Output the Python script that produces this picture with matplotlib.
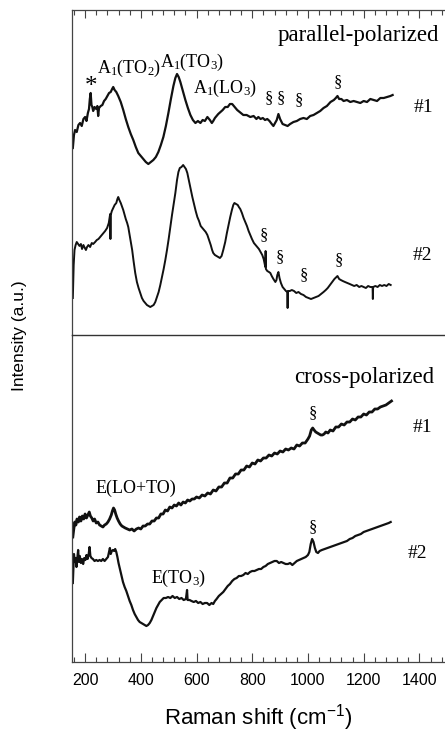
import matplotlib
matplotlib.use("Agg")
import matplotlib.pyplot as plt
from matplotlib.ticker import MultipleLocator

# Raman-Spektren, Werte (willkuerliche Einheiten)
par1_x = [156,160,164,170,176,182,188,194,200,205,210,214,217,220,223,226,229,234,240,244,247,250,256,262,268,274,280,286,292,297,
          301,306,312,319,328,337,346,355,364,373,382,391,400,409,418,427,436,445,454,463,472,481,490,499,508,517,524,530,536,542,
          551,560,569,578,587,596,605,614,622,630,639,648,655,660,666,672,678,686,694,703,712,720,728,737,746,755,768,780,793,805,
          815,822,830,838,846,854,862,870,876,882,888,894,900,909,918,927,936,948,960,972,984,996,1008,1020,1032,1044,1056,1068,1081,1093,
          1100,1106,1112,1120,1128,1140,1152,1164,1176,1188,1200,1212,1224,1236,1248,1260,1272,1284,1296,1304]
par1_y = [187,200,205,203,210,212,209,216,218,214,222,226,236,242,230,228,224,228,226,229,219,227,229,230,234,236,239,242,243,246,
          248,245,243,239,233,225,216,208,201,195,188,182,179,176,173,171,173,175,178,183,190,198,209,222,236,249,257,261,258,253,
          244,235,227,220,215,212,214,212,215,214,218,215,212,214,217,219,221,223,225,228,228,231,231,228,225,223,220,220,218,219,
          216,218,216,217,215,216,214,211,209,212,215,221,216,211,210,209,211,213,214,216,217,216,219,220,222,224,227,229,233,235,
          237,239,236,236,234,235,233,234,233,232,234,233,236,235,234,237,237,238,239,240]

par2_x = [156,159,162,166,170,175,180,185,189,194,199,203,207,212,218,224,229,236,242,248,254,260,266,272,279,285,288,290,291,292,
          296,301,306,312,316,319,323,328,333,337,342,346,351,355,360,364,369,374,380,386,392,398,404,410,416,422,428,434,440,446,
          452,458,464,470,476,482,488,494,500,506,512,518,524,530,535,540,546,552,557,562,567,573,579,585,591,597,603,609,615,621,
          627,633,639,645,651,656,660,666,672,678,684,690,696,703,709,715,721,727,732,736,742,748,752,757,763,769,775,781,787,793,
          799,806,812,818,824,830,836,841,845,847,848,849,854,860,865,870,876,883,887,890,894,898,903,909,915,921,926,927,928,935,
          942,950,958,966,975,984,993,1002,1011,1020,1029,1038,1047,1056,1064,1071,1079,1087,1095,1102,1106,1112,1118,1125,1133,1142,1150,1158,1166,1175,
          1184,1192,1200,1208,1216,1224,1232,1233,1234,1242,1250,1258,1266,1274,1282,1290,1297]
par2_y = [37,70,85,90,93,91,89,91,86,90,87,85,88,90,88,92,91,93,95,96,98,100,102,104,107,112,117,121,96,120,
          124,127,130,132,136,138,135,132,128,125,120,116,112,108,100,93,85,74,62,53,47,42,37,34,32,30,29,28,29,30,
          33,38,43,50,58,66,75,85,96,108,120,131,142,155,163,167,168,170,168,166,162,154,146,138,131,124,118,114,109,107,
          105,103,100,95,90,85,82,80,79,78,77,79,85,93,102,110,118,125,130,132,131,130,128,126,122,117,113,109,104,100,
          96,92,90,88,86,83,80,76,71,68,84,66,64,63,62,59,56,53,55,60,63,57,52,48,46,44,43,27,44,44,
          45,44,42,43,41,40,38,37,36,37,38,39,41,43,45,47,50,53,56,58,59,56,55,54,53,52,51,50,49,50,
          48,49,48,47,49,48,48,36,48,49,48,50,49,50,49,51,50]

cross1_x = [156,159,163,167,171,176,180,185,190,195,200,205,210,215,219,224,229,234,240,246,252,258,264,270,276,282,288,294,298,302,
            306,310,315,320,326,332,338,344,352,360,368,376,384,392,400,408,416,424,432,440,448,456,464,472,480,488,496,504,512,520,
            528,536,544,552,560,568,576,584,592,600,610,620,630,640,650,660,670,680,690,700,710,720,730,740,750,760,770,780,790,800,
            810,820,830,840,850,860,870,880,890,900,910,920,930,940,950,960,970,980,990,1000,1006,1012,1017,1022,1028,1034,1040,1046,1052,1058,
            1064,1072,1080,1090,1100,1110,1120,1130,1140,1150,1160,1170,1180,1190,1200,1210,1220,1230,1240,1250,1260,1270,1280,1290,1300]
cross1_y = [125,132,140,137,143,140,145,141,146,143,148,144,147,150,146,144,141,143,139,140,137,136,135,137,138,140,143,147,151,154,
            152,148,144,141,138,136,135,134,133,132,133,131,133,134,133,136,136,138,138,141,141,144,144,148,148,152,151,155,154,157,
            156,159,157,160,159,162,161,163,163,165,164,167,166,169,168,172,171,175,175,179,179,184,184,188,188,192,192,196,195,199,
            198,202,201,204,204,207,206,209,208,211,210,213,212,214,213,217,216,219,219,223,226,232,234,232,230,229,228,227,227,228,
            230,229,232,231,235,235,238,237,240,240,243,242,245,245,248,247,250,250,253,253,255,256,257,259,261]

cross2_x = [156,158,160,163,166,169,172,175,178,181,185,189,193,197,201,205,209,213,216,219,223,228,234,240,246,252,258,264,270,276,
            282,286,289,292,296,300,304,308,312,316,320,325,330,336,342,348,354,360,366,372,378,384,390,396,402,408,414,420,426,432,
            438,444,450,456,462,468,475,482,490,498,506,514,522,530,538,546,554,562,566,568,575,582,590,598,606,614,622,630,638,646,
            654,660,666,672,680,688,696,704,712,720,728,736,744,752,760,768,776,784,792,800,808,816,824,832,840,848,856,864,872,880,
            888,896,904,912,920,928,936,944,952,960,968,976,984,992,1000,1005,1010,1015,1020,1025,1030,1036,1042,1050,1060,1070,1080,1090,1100,1110,
            1120,1130,1140,1150,1160,1170,1180,1190,1200,1210,1220,1230,1240,1250,1260,1270,1280,1290,1297]
cross2_y = [79,95,108,100,104,95,103,112,100,106,99,103,98,104,102,107,103,108,115,106,104,103,101,102,101,102,101,103,101,103,
            105,110,114,108,111,112,111,113,110,105,99,93,87,80,75,71,66,61,57,52,48,45,42,40,39,38,37,36,37,39,
            42,46,50,54,57,60,62,64,64,65,64,66,64,65,63,64,62,63,72,62,62,61,60,61,59,60,58,59,59,57,
            59,58,61,63,66,68,70,73,76,78,81,83,84,86,86,87,89,88,90,91,91,92,93,93,95,96,98,99,100,101,
            101,99,100,99,98,98,99,97,99,101,102,103,104,105,107,110,118,123,120,114,110,109,111,112,113,114,115,116,117,118,
            119,120,121,123,124,126,127,128,130,131,132,133,134,135,136,137,138,139,140]

W, H = 445, 742
fig = plt.figure(figsize=(W / 100, H / 100), dpi=100)

left = 72 / W
ax1 = fig.add_axes([left, 1 - 335 / H, 1 - left, (335 - 10) / H])
ax2 = fig.add_axes([left, 1 - 662 / H, 1 - left, (662 - 335) / H])
ax2.patch.set_visible(False)

serif = "Liberation Serif"
sans = "Liberation Sans"
lc = "#111111"

for ax in (ax1, ax2):
    ax.set_xlim(153, 1492)
    ax.set_yticks([])
    ax.spines["right"].set_visible(False)
    for s in ax.spines.values():
        s.set_color("#444444")
        s.set_linewidth(0.9)
    ax.xaxis.set_major_locator(MultipleLocator(200))
    ax.xaxis.set_minor_locator(MultipleLocator(40))

ax1.set_ylim(0, 325)
ax2.set_ylim(0, 327)
# Trennlinie zwischen den beiden Teilbildern
ax1.spines["bottom"].set_visible(False)
ax2.spines["top"].set_color("#333333")
ax2.spines["top"].set_linewidth(1.0)

ax1.tick_params(axis="x", which="both", direction="in", bottom=False, top=True,
                labelbottom=False, color="#444444", width=0.8)
ax1.tick_params(axis="x", which="major", length=6)
ax1.tick_params(axis="x", which="minor", length=3.5)
ax2.tick_params(axis="x", which="both", direction="in", bottom=True, top=False,
                color="#444444", width=0.8, pad=8)
ax2.tick_params(axis="x", which="major", length=6.5)
ax2.tick_params(axis="x", which="minor", length=3.5)
for lab in ax2.get_xticklabels():
    lab.set_fontfamily(sans)
    lab.set_fontsize(11.5)

ax1.plot(par1_x, par1_y, color=lc, lw=1.6)
ax1.plot(par2_x, par2_y, color=lc, lw=1.4)
ax2.plot(cross1_x, cross1_y, color=lc, lw=2.0)
ax2.plot(cross2_x, cross2_y, color=lc, lw=1.6)

def txt(ax, x, y, s, size=13, ha="center"):
    ax.text(x, y, s, fontsize=size, family=serif, ha=ha, va="center")

# oben: parallel
txt(ax1, 1470, 300, "parallel-polarized", 16.5, ha="right")
txt(ax1, 221, 248, "*", 18)
txt(ax1, 358, 267, r"A$\mathregular{_1}$(TO$\mathregular{_2}$)")
txt(ax1, 585, 273, r"A$\mathregular{_1}$(TO$\mathregular{_3}$)")
txt(ax1, 704, 247, r"A$\mathregular{_1}$(LO$\mathregular{_3}$)")
for xs, ys in [(858, 237), (901, 237), (966, 235), (1106, 253),
               (841, 100), (898, 78), (984, 60), (1110, 75)]:
    txt(ax1, xs, ys, "§", 12)
txt(ax1, 1416, 228, "#1", 14)
txt(ax1, 1412, 80, "#2", 14)

# unten: gekreuzt
txt(ax2, 1452, 285, "cross-polarized", 16.5, ha="right")
txt(ax2, 383, 174, "E(LO+TO)")
txt(ax2, 535, 84, r"E(TO$\mathregular{_3}$)")
txt(ax2, 1017, 249, "§", 12)
txt(ax2, 1017, 135, "§", 12)
txt(ax2, 1412, 234, "#1", 14)
txt(ax2, 1394, 109, "#2", 14)

fig.text(20 / W, 1 - 336 / H, "Intensity (a.u.)", rotation=90, ha="center", va="center",
         family=sans, fontsize=12.5)
fig.text(258 / W, 1 - 718 / H, r"Raman shift (cm$\mathregular{^{-1}}$)",
         ha="center", va="center", family=sans, fontsize=16)

fig.savefig("out.png", dpi=100)
